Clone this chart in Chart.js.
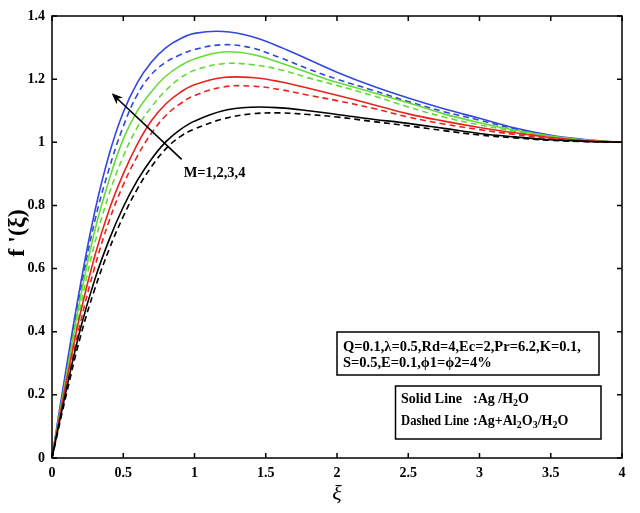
<!DOCTYPE html>
<html><head><meta charset="utf-8">
<script src="https://cdn.jsdelivr.net/npm/chart.js@4.4.0/dist/chart.umd.min.js"></script>
<style>html,body{margin:0;padding:0;background:#fff;}</style>
</head><body>
<canvas id="c" width="640" height="513" style="width:640px;height:513px;display:block"></canvas>
<script>
const xi = [0,0.1,0.2,0.3,0.4,0.5,0.6,0.7,0.8,0.9,1.0,1.2,1.4,1.6,1.8,2.0,2.25,2.5,2.75,3.0,3.25,3.5,3.75,4.0];
const blueSolid   = [0,0.285,0.55,0.78,0.96,1.095,1.19,1.255,1.3,1.328,1.345,1.351,1.335,1.302,1.262,1.222,1.178,1.14,1.106,1.076,1.045,1.022,1.008,1.0];
const blueDashed  = [0,0.27,0.53,0.75,0.915,1.05,1.152,1.216,1.254,1.277,1.294,1.309,1.299,1.268,1.232,1.2,1.165,1.129,1.097,1.07,1.042,1.02,1.007,1.0];
const greenSolid  = [0,0.26,0.51,0.72,0.88,1.01,1.1,1.162,1.21,1.242,1.264,1.286,1.279,1.252,1.22,1.19,1.158,1.125,1.09,1.062,1.038,1.02,1.007,1.0];
const greenDashed = [0,0.245,0.48,0.68,0.835,0.955,1.048,1.113,1.165,1.203,1.228,1.249,1.246,1.23,1.204,1.18,1.148,1.112,1.08,1.055,1.035,1.017,1.006,1.0];
const redSolid    = [0,0.24,0.46,0.64,0.785,0.9,0.995,1.07,1.122,1.158,1.182,1.205,1.205,1.192,1.171,1.149,1.12,1.09,1.067,1.047,1.03,1.015,1.005,1.0];
const redDashed   = [0,0.222,0.43,0.605,0.75,0.865,0.957,1.03,1.085,1.122,1.148,1.175,1.178,1.167,1.149,1.132,1.108,1.08,1.058,1.04,1.025,1.012,1.004,1.0];
const blackSolid  = [0,0.215,0.41,0.565,0.69,0.795,0.88,0.948,1.002,1.04,1.067,1.1,1.111,1.109,1.1,1.088,1.073,1.06,1.044,1.028,1.017,1.008,1.003,1.0];
const blackDashed = [0,0.2,0.385,0.535,0.66,0.765,0.853,0.924,0.98,1.018,1.042,1.074,1.09,1.093,1.088,1.08,1.066,1.052,1.037,1.023,1.014,1.006,1.002,1.0];
const xTicks = [0,0.5,1,1.5,2,2.5,3,3.5,4];
const yTicks = [0,0.2,0.4,0.6,0.8,1,1.2,1.4];
const paramText = ["Q=0.1,\u03bb=0.5,Rd=4,Ec=2,Pr=6.2,K=0.1,", "S=0.5,E=0.1,\u03d51=\u03d52=4%"];
const arrowLabel = "M=1,2,3,4";

const SERIF = "'Liberation Serif','Times New Roman',serif";
const BLUE='#3347e0', GREEN='#62dc34', RED='#e8231c', BLACK='#000000';

function pts(arr){ return xi.map((x,i)=>({x:x,y:arr[i]})); }
function ds(arr,color,dashed){
  return {data:pts(arr),borderColor:color,borderWidth:1.6,pointRadius:0,fill:false,
    borderDash:dashed?[6,4]:[],tension:0.4,cubicInterpolationMode:'default'};
}

const decor = {
  id:'decor',
  afterDraw(chart){
    const ctx=chart.ctx, a=chart.chartArea, xs=chart.scales.x, ys=chart.scales.y;
    ctx.save();
    ctx.strokeStyle='#000'; ctx.lineWidth=1.5;
    ctx.strokeRect(a.left,a.top,a.right-a.left,a.bottom-a.top);
    const tl=5;
    ctx.beginPath();
    xTicks.forEach(v=>{const px=xs.getPixelForValue(v);
      ctx.moveTo(px,a.bottom);ctx.lineTo(px,a.bottom-tl);
      ctx.moveTo(px,a.top);ctx.lineTo(px,a.top+tl);});
    yTicks.forEach(v=>{const py=ys.getPixelForValue(v);
      ctx.moveTo(a.left,py);ctx.lineTo(a.left+tl,py);
      ctx.moveTo(a.right,py);ctx.lineTo(a.right-tl,py);});
    ctx.stroke();

    // axis titles
    ctx.fillStyle='#000';
    ctx.save();
    ctx.translate(18,233); ctx.rotate(-Math.PI/2);
    ctx.font="bold 24px "+SERIF; ctx.textAlign='center'; ctx.textBaseline='middle';
    ctx.fillText("f '(\u03be)",0,0);
    ctx.restore();
    ctx.font="italic 22px "+SERIF; ctx.textAlign='center'; ctx.textBaseline='middle';
    ctx.fillText("\u03be",(a.left+a.right)/2,494);

    // arrow
    const x0=xs.getPixelForValue(0.91), y0=ys.getPixelForValue(0.946);
    const x1=xs.getPixelForValue(0.419), y1=ys.getPixelForValue(1.155);
    const ang=Math.atan2(y1-y0,x1-x0);
    ctx.lineWidth=1.6;
    ctx.beginPath(); ctx.moveTo(x0,y0); ctx.lineTo(x1-Math.cos(ang)*6,y1-Math.sin(ang)*6); ctx.stroke();
    ctx.beginPath();
    ctx.moveTo(x1,y1);
    ctx.lineTo(x1-Math.cos(ang)*11+Math.sin(ang)*4.5, y1-Math.sin(ang)*11-Math.cos(ang)*4.5);
    ctx.lineTo(x1-Math.cos(ang)*8, y1-Math.sin(ang)*8);
    ctx.lineTo(x1-Math.cos(ang)*11-Math.sin(ang)*4.5, y1-Math.sin(ang)*11+Math.cos(ang)*4.5);
    ctx.closePath(); ctx.fill();
    ctx.font="bold 14.5px "+SERIF; ctx.textAlign='left'; ctx.textBaseline='middle';
    ctx.fillText(arrowLabel,x0+2,y0+14);

    // parameter box
    ctx.lineWidth=1.5;
    ctx.strokeRect(337,332,262,43);
    ctx.font="bold 14.5px "+SERIF; ctx.textBaseline='middle';
    ctx.fillText(paramText[0],343,347);
    ctx.fillText(paramText[1],343,363);

    // line style box
    ctx.strokeRect(395.5,386,205.5,53);
    function rich(parts,x,y){
      parts.forEach(p=>{
        if(p.sub){ ctx.font="bold 10px "+SERIF; ctx.fillText(p.t,x,y+4); x+=ctx.measureText(p.t).width; }
        else { ctx.font="bold 14px "+SERIF; ctx.fillText(p.t,x,y); x+=ctx.measureText(p.t).width; }
      });
    }
    ctx.font="bold 14px "+SERIF;
    ctx.fillText("Solid Line",401,399,62);
    ctx.fillText("Dashed Line",401,421,68);
    rich([{t:":Ag /H"},{t:"2",sub:true},{t:"O"}],473,399);
    rich([{t:":Ag+Al"},{t:"2",sub:true},{t:"O"},{t:"3",sub:true},{t:"/H"},{t:"2",sub:true},{t:"O"}],473,421);
    ctx.restore();
  }
};

new Chart(document.getElementById('c'),{
  type:'line',
  data:{datasets:[
    ds(blackDashed,BLACK,true), ds(blackSolid,BLACK,false),
    ds(redDashed,RED,true), ds(redSolid,RED,false),
    ds(greenDashed,GREEN,true), ds(greenSolid,GREEN,false),
    ds(blueDashed,BLUE,true), ds(blueSolid,BLUE,false)
  ]},
  options:{
    responsive:false, animation:false, devicePixelRatio:1,
    layout:{padding:{top:16,right:18,left:0,bottom:0}},
    plugins:{legend:{display:false},tooltip:{enabled:false}},
    scales:{
      x:{type:'linear',min:0,max:4,
        afterBuildTicks:s=>{s.ticks=xTicks.map(v=>({value:v}));},
        afterFit:s=>{s.height=55;},
        grid:{display:false,drawTicks:false},border:{display:false},
        ticks:{color:'#000',padding:7,maxRotation:0,callback:v=>String(v),font:{family:SERIF,size:14,weight:'bold'}}},
      y:{type:'linear',min:0,max:1.4,
        afterBuildTicks:s=>{s.ticks=yTicks.map(v=>({value:v}));},
        afterFit:s=>{s.width=52;},
        grid:{display:false,drawTicks:false},border:{display:false},
        ticks:{color:'#000',padding:7,callback:v=>String(v),font:{family:SERIF,size:14,weight:'bold'}}}
    }
  },
  plugins:[decor]
});
</script>
</body></html>
